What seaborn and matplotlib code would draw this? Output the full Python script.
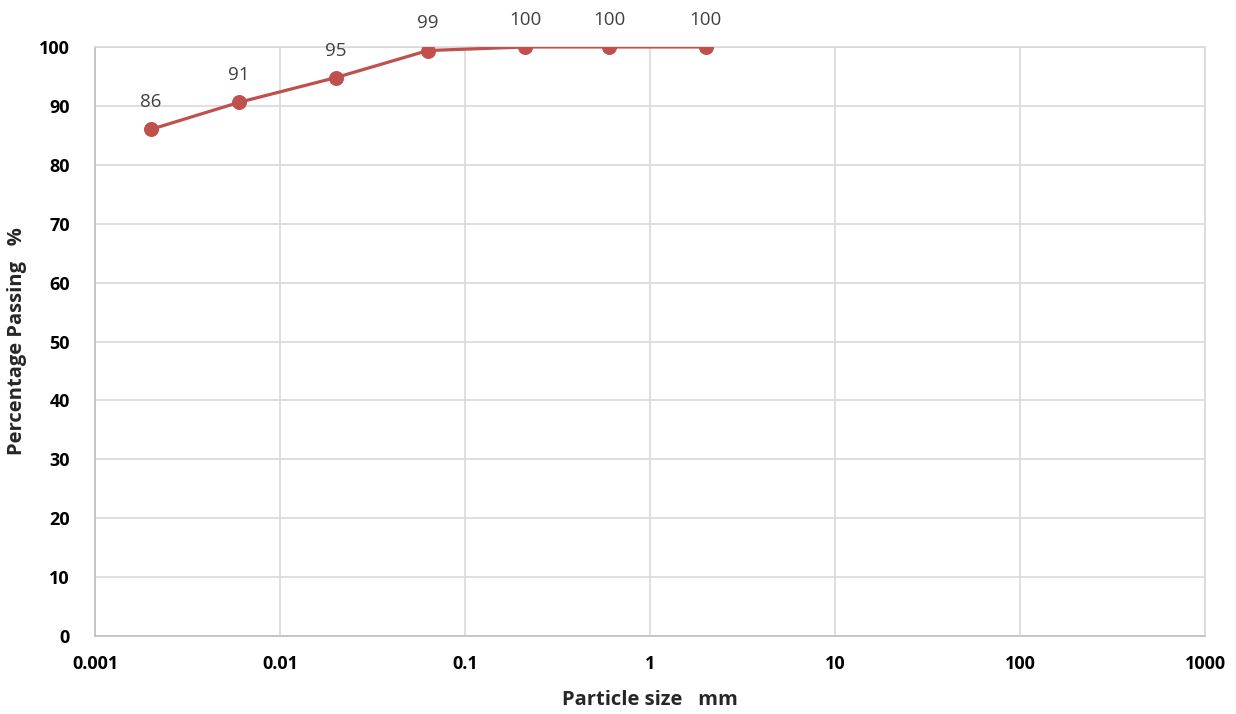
import matplotlib
matplotlib.use("Agg")
import matplotlib.pyplot as plt
import matplotlib.ticker as mticker
import seaborn as sns
import pandas as pd

# Grading curve data
particle_size_mm = [0.002, 0.006, 0.02, 0.063, 0.212, 0.6, 2.0]
percent_passing = [86.0, 90.6, 94.8, 99.4, 100.0, 100.0, 100.0]
x_ticks = [0.001, 0.01, 0.1, 1, 10, 100, 1000]
x_tick_labels = ["0.001", "0.01", "0.1", "1", "10", "100", "1000"]
y_ticks = [0, 10, 20, 30, 40, 50, 60, 70, 80, 90, 100]

sns.set_theme(style="white")
plt.rcParams["font.family"] = ["Open Sans", "DejaVu Sans"]

df = pd.DataFrame({"size": particle_size_mm, "passing": percent_passing})

fig = plt.figure(figsize=(12.36, 7.14), dpi=100)
ax = fig.add_axes([0.0769, 0.1092, 0.8981, 0.8250])

line_color = "#C0504D"
sns.lineplot(data=df, x="size", y="passing", ax=ax, color=line_color,
             linewidth=2.3, marker="o", markersize=10,
             markeredgecolor=line_color, markerfacecolor=line_color, zorder=3)

ax.set_xscale("log")
ax.set_xlim(0.001, 1000)
ax.set_ylim(0, 100)
ax.set_xticks(x_ticks)
ax.set_xticklabels(x_tick_labels)
ax.xaxis.set_minor_locator(mticker.NullLocator())
ax.set_yticks(y_ticks)

ax.grid(True, color="#D9D9D9", linewidth=1.2)
ax.set_axisbelow(True)
for side in ["top", "right"]:
    ax.spines[side].set_color("#D9D9D9")
    ax.spines[side].set_linewidth(1.2)
for side in ["left", "bottom"]:
    ax.spines[side].set_color("#BFBFBF")
    ax.spines[side].set_linewidth(1.2)

ax.tick_params(axis="both", length=0, labelsize=13, colors="#000000")
ax.tick_params(axis="x", pad=14)
ax.tick_params(axis="y", pad=18)
for lbl in ax.get_xticklabels() + ax.get_yticklabels():
    lbl.set_fontweight("bold")

ax.set_xlabel("Particle size   mm", fontsize=14.5, fontweight="bold", labelpad=12)
ax.set_ylabel("Percentage Passing   %", fontsize=14.5, fontweight="bold", labelpad=9)

# Value labels above each point
for xv, yv in zip(particle_size_mm, percent_passing):
    ax.annotate(f"{yv:.0f}", (xv, yv), xytext=(0, 13), textcoords="offset points",
                ha="center", va="bottom", fontsize=13.5, color="#404040",
                annotation_clip=False)

fig.savefig("out.png", dpi=100)
